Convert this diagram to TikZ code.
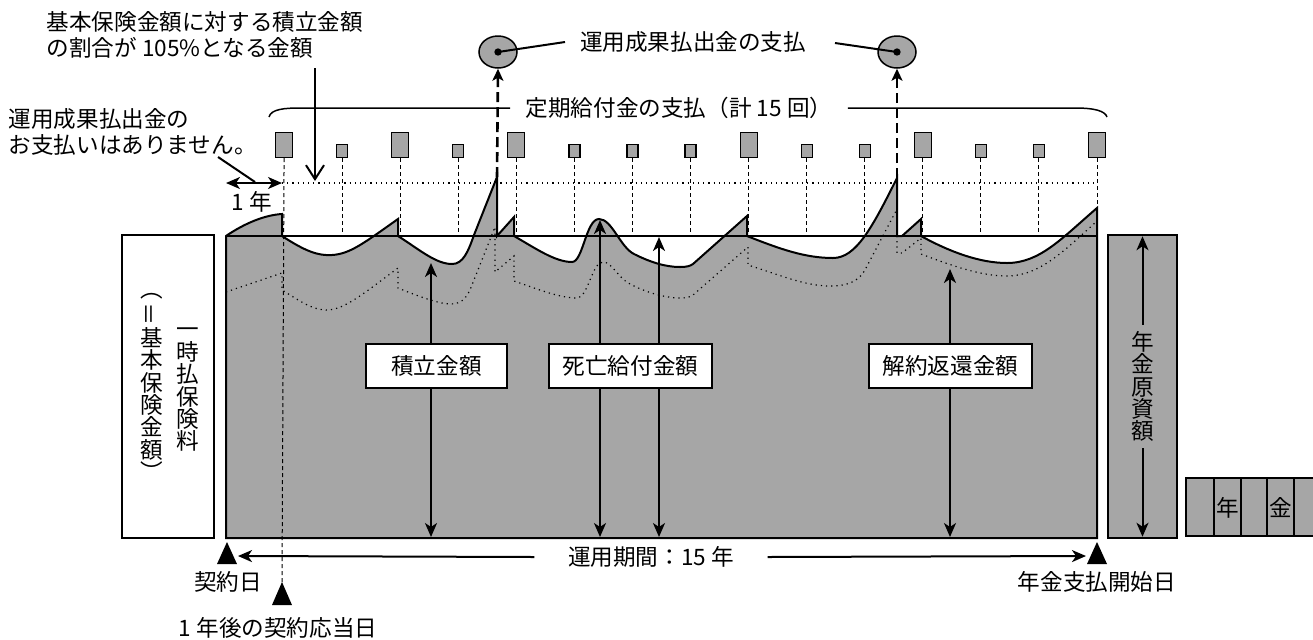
\documentclass[tikz,border=0pt]{standalone}
\usepackage{fontspec}
\setmainfont{Noto Sans CJK JP}
\usepackage{graphicx}
\usepackage{tikz}
\usetikzlibrary{arrows.meta,shapes.geometric}
\definecolor{chartgray}{RGB}{166,166,166}
\newcommand{\jpsize}{\fontsize{11.3pt}{13pt}\selectfont}
\tikzset{every picture/.style={line width=0.75pt}}
\tikzset{
  every node/.append style={font=\jpsize},
  tate/.style={align=center,inner sep=0pt,font=\fontsize{11.3pt}{11.2pt}\selectfont},
  bigbox/.style={draw,line width=0.6pt,fill=chartgray,minimum width=8.5pt,minimum height=12.5pt,inner sep=0pt,anchor=south},
  smallbox/.style={draw,line width=0.6pt,fill=chartgray,minimum width=5.5pt,minimum height=6.5pt,inner sep=0pt,anchor=south},
  yeardash/.style={line width=0.5pt,dash pattern=on 2pt off 1.5pt},
  payarrow/.style={-{Stealth[length=6pt,width=5.5pt,inset=1.5pt]},line width=1.3pt,dash pattern=on 5pt off 2.5pt},
  dimarrow/.style={{Stealth[length=7pt,width=6pt,inset=2pt]}-{Stealth[length=7pt,width=6pt,inset=2pt]},line width=1pt},
  onearrow/.style={-{Stealth[length=7pt,width=6pt,inset=2pt]},line width=1pt},
  labelbox/.style={draw,fill=white,minimum height=22pt,inner sep=0pt},
}

\begin{document}
\begin{tikzpicture}[x=0.5pt,y=-0.5pt]
\useasboundingbox (0,0) rectangle (1313,639);
%
\coordinate (top) at (226,236);
\draw[dotted,line width=0.6pt] (282,183) -- (1097,183);
\foreach \i/\s in {1/bigbox,2/smallbox,3/bigbox,4/smallbox,5/bigbox,6/smallbox,7/smallbox,8/smallbox,
                   9/bigbox,10/smallbox,11/smallbox,12/bigbox,13/smallbox,14/smallbox,15/bigbox}
  \node[\s] (yr\i) at ({226+58.07*\i},158) {};
\foreach \i in {2,...,15}
  \draw[yeardash] (yr\i.south) -- (yr\i.south |- top);
%
\filldraw[fill=chartgray,line width=1pt]
 (226,236) .. controls (245,223) and (265,215) .. (282,214) -- (282,236)
 .. controls (305,251) and (318,256) .. (332,255) .. controls (350,254) and (364,243) .. (398,219) -- (398,236)
 .. controls (420,250) and (436,264) .. (452,264) .. controls (463,264) and (468,252) .. (474,235) -- (497,177) -- (497,236)
 -- (514,217) -- (514,236)
 .. controls (535,248) and (555,262) .. (572,262) .. controls (583,262) and (586,219) .. (599,219)
 .. controls (612,219) and (620,247) .. (634,254) .. controls (650,262) and (665,267) .. (680,267)
 .. controls (687,267) and (690,266) .. (693,264) -- (747,216) -- (747,236)
 .. controls (780,249) and (805,258) .. (833,258) .. controls (856,258) and (872,228) .. (897,178) -- (897,236)
 -- (902,236) -- (921,219) -- (921,236)
 .. controls (950,252) and (980,263) .. (1007,263) .. controls (1040,263) and (1062,238) .. (1097,208)
 -- (1097,538) -- (226,538) -- cycle;
\draw[dotted,line width=0.6pt]
 (226,292) -- (282,273) -- (282,290) .. controls (300,301) and (312,310) .. (327,310)
 .. controls (345,310) and (368,290) .. (398,268) -- (398,288)
 .. controls (420,297) and (440,304) .. (450,304) .. controls (460,304) and (465,300) .. (470,290)
 -- (495,227) -- (495,272) -- (514,256) -- (514,281)
 .. controls (540,290) and (560,298) .. (577,298) .. controls (588,298) and (592,262) .. (603,262)
 .. controls (612,262) and (618,278) .. (630,284) .. controls (645,292) and (665,298) .. (680,298)
 .. controls (687,298) and (690,297) .. (693,295) -- (748,247) -- (748,265)
 .. controls (780,275) and (805,286) .. (830,286) .. controls (850,286) and (860,280) .. (866,268)
 -- (897,209) -- (897,253) -- (902,253) -- (921,238) -- (921,254)
 .. controls (950,265) and (980,276) .. (1007,276) .. controls (1040,276) and (1065,250) .. (1097,221);
\draw (top) -- (1097,236);
%
\coordinate (anniv) at (282,582);
\draw[yeardash] (yr1.south) -- (anniv);
%
% premium box
\node[draw,fill=white,minimum width=46pt,minimum height=151.5pt,inner sep=0pt] (prem) at (168,386.5) {};
\node[tate] (premtxt) at (188,390) {一\\時\\払\\保\\険\\料};
\node[tate] (basetxt) at (152,387) {︵\\\rotatebox[origin=c]{90}{＝}\\基\\本\\保\\険\\金\\額\\︶};
%
% fund box
\node[draw,fill=chartgray,minimum width=34.5pt,minimum height=151.5pt,inner sep=0pt] (fund) at (1142.5,386.5) {};
\draw[dimarrow] ([yshift=-1pt]fund.north) -- ([yshift=1pt]fund.south);
\node[tate,fill=chartgray,inner ysep=3pt] (fundtxt) at (fund) {年\\金\\原\\資\\額};
%
% annuity strip
\fill[chartgray] (1186,478) rectangle (1313,536);
\draw (1313,478) -- (1186,478) -- (1186,536) -- (1313,536);
\foreach \x in {1214,1241,1267,1294}
  \draw (\x,478) -- (\x,536);
\node (ann1) at (1227.5,508) {年};
\node (ann2) at (1280.5,508) {金};
%
% amounts
\coordinate (accbot) at (431,537);
\coordinate (acctop) at (431,263);
\draw[dimarrow] (accbot) -- (acctop);
\node[labelbox,minimum width=70.5pt] (acc) at (436.5,366) {積立金額};
\coordinate (dthbot1) at (600,537);
\coordinate (dthtop1) at (600,220);
\coordinate (dthbot2) at (659,537);
\coordinate (dthtop2) at (659,237);
\draw[dimarrow] (dthbot1) -- (dthtop1);
\draw[dimarrow] (dthbot2) -- (dthtop2);
\node[labelbox,minimum width=81.5pt] (dth) at (630.5,366) {死亡給付金額};
\coordinate (surbot) at (950,537);
\coordinate (surtop) at (950,269);
\draw[dimarrow] (surbot) -- (surtop);
\node[labelbox,minimum width=81.5pt] (sur) at (950.5,366) {解約返還金額};
%
% payouts
\node[ellipse,draw,fill=chartgray,minimum width=19pt,minimum height=16pt,inner sep=0pt] (pay1) at (498,52) {};
\node[ellipse,draw,fill=chartgray,minimum width=19pt,minimum height=16pt,inner sep=0pt] (pay2) at (897,52) {};
\node[circle,fill,inner sep=1.3pt] (dot1) at (pay1) {};
\node[circle,fill,inner sep=1.3pt] (dot2) at (pay2) {};
\node (paytxt) at (693,42) {運用成果払出金の支払};
\coordinate (payl) at (565,42);
\coordinate (payr) at (835,43);
\draw[line width=1pt] (dot1.center) -- (payl);
\draw[line width=1pt] (payr) -- (dot2.center);
\coordinate (spk1) at (497,177);
\coordinate (spk2) at (897,178);
\draw[payarrow] (spk1) -- (pay1.south);
\draw[payarrow] (spk2) -- (pay2.south);
%
% regular benefit brace
\node[inner xsep=7.5pt,inner ysep=0pt] (reg) at (679,108) {定期給付金の支払（計 15 回）};
\draw (269,117) .. controls (271,109) and (285,108) .. (300,108) -- (reg.west);
\draw (reg.east) -- (1075,108) .. controls (1095,108) and (1105,111) .. (1107,117);
%
% 105% level
\node[align=left,anchor=west,inner sep=0pt] (ratio) at (46,35) {基本保険金額に対する積立金額\\の割合が 105\%となる金額};
\coordinate (ratiotop) at (315,68);
\coordinate (ratiobot) at (315,181);
\draw[line width=1pt,-{Straight Barb[length=7pt,width=9pt]}] (ratiotop) -- (ratiobot);
%
% first year note
\node[align=left,anchor=west,inner sep=0pt] (note) at (8,132) {運用成果払出金の\\お支払いはありません。};
\coordinate (notea) at (218,157);
\coordinate (noteb) at (255,182);
\draw[line width=1pt] (notea) -- (noteb);
\coordinate (yr0) at (226,183);
\coordinate (yr1lvl) at (282,183);
\draw[dimarrow] (yr0) -- (yr1lvl);
\node (oneyear) at (252,202) {1 年};
%
% time axis
\fill (227,542) -- (217,564) -- (237,564) -- cycle;
\fill (1097,542) -- (1087,564) -- (1107,564) -- cycle;
\fill (anniv) -- (272,605) -- (292,605) -- cycle;
\coordinate (startend) at (238,556);
\coordinate (payend) at (1086,556);
\node[inner xsep=16.5pt] (period) at (651,557) {運用期間：15 年};
\draw[onearrow] (period.west) -- (startend);
\draw[onearrow] (period.east) -- (payend);
\node (start) at (228,582) {契約日};
\node (annstart) at (1097,582) {年金支払開始日};
\node (annday) at (278,628) {1 年後の契約応当日};
\end{tikzpicture}
\end{document}
